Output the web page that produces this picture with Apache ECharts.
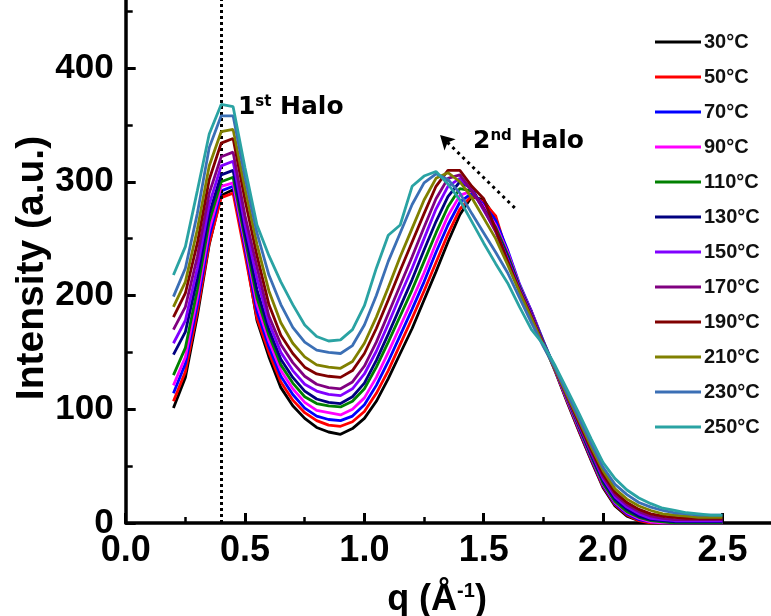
<!DOCTYPE html>
<html><head><meta charset="utf-8">
<script src="https://cdn.jsdelivr.net/npm/echarts@6/dist/echarts.min.js"></script>
<style>html,body{margin:0;padding:0;background:#fff}#c{width:771px;height:616px}</style>
</head><body><div id="c"></div>
<script>
// q values (Å^-1)
const xValues = [0.20,0.25,0.30,0.35,0.40,0.45,0.50,0.55,0.60,0.65,0.70,0.75,0.80,0.85,0.90,0.95,1.00,1.05,1.10,1.15,1.20,1.25,1.30,1.35,1.40,1.45,1.50,1.55,1.60,1.65,1.70,1.75,1.80,1.85,1.90,1.95,2.00,2.05,2.10,2.15,2.20,2.25,2.30,2.35,2.40,2.45,2.50];
const seriesNames = ['30\u00B0C','50\u00B0C','70\u00B0C','90\u00B0C','110\u00B0C','130\u00B0C','150\u00B0C','170\u00B0C','190\u00B0C','210\u00B0C','230\u00B0C','250\u00B0C'];
const colors = ['#000000','#ff0000','#0000ff','#ff00ff','#008000','#000080','#8000ff','#800080','#800000','#808000','#3b6fb5','#2aa3a3'];
const s30  = [101,128,182,245,288,293,240,178,146,119,103,92,84,80,78,83,92,107,127,149,171,196,221,247,271,287,284,268,232,206,184,158,133,106,80,55,31,15,6,2,0,0,0,0,0,0,0];
const s50  = [107,133,186,246,286,290,236,180,150,124,108,97,90,86,85,89,98,114,134,157,180,204,229,254,276,288,282,270,236,208,186,159,134,107,81,56,32,16,7,2,0,0,0,0,0,0,0];
const s70  = [114,140,192,252,292,296,242,186,155,129,113,101,94,91,90,94,104,121,142,165,188,212,238,262,282,290,280,266,240,210,186,160,135,108,82,57,33,17,8,3,1,0,0,0,0,0,0];
const s90  = [121,146,198,258,296,299,246,192,160,134,118,106,99,97,95,100,110,128,150,173,196,220,246,270,288,292,278,262,238,209,185,159,134,108,83,58,34,18,9,4,1,0,0,0,0,0,0];
const s110 = [130,154,205,265,300,304,250,198,165,139,123,111,105,103,102,107,118,137,159,182,205,230,255,278,294,292,276,260,236,208,184,159,135,109,84,59,35,19,10,5,2,1,0,0,0,0,0];
const s130 = [148,168,215,272,306,310,255,205,170,144,128,116,109,106,105,111,123,143,166,190,214,240,265,287,300,294,276,258,234,207,184,158,135,110,85,60,37,21,12,6,3,2,1,1,1,1,1];
const s150 = [158,178,224,280,314,318,262,215,176,150,134,122,116,113,112,118,131,151,175,200,224,250,276,296,303,293,275,257,232,206,183,158,135,110,86,62,39,23,14,8,4,3,2,2,2,2,2];
const s170 = [170,190,234,290,322,326,270,225,182,157,141,129,122,119,118,124,138,159,184,209,234,260,285,303,306,292,276,256,230,205,182,157,135,111,87,63,41,25,16,10,6,4,3,3,3,3,3];
const s190 = [181,202,246,302,334,338,284,235,192,165,149,137,131,129,128,134,149,171,196,222,247,272,296,310,310,296,285,258,230,204,181,157,135,111,88,65,43,27,18,12,8,6,5,4,4,4,4];
const s210 = [190,212,258,314,344,346,294,245,204,176,158,146,139,137,136,142,158,181,207,234,259,284,303,308,300,286,268,250,227,203,180,156,135,112,90,67,46,30,21,15,11,8,7,6,5,5,5];
const s230 = [199,224,272,330,358,358,304,255,218,192,172,159,152,150,149,156,174,200,230,255,280,299,307,302,290,272,255,238,220,198,176,155,136,114,92,70,49,34,25,18,14,11,9,8,7,7,7];
const s250 = [218,243,292,342,368,366,312,262,235,212,192,174,164,160,161,170,191,224,253,262,296,305,309,298,284,265,246,228,211,190,170,157,138,117,96,74,53,39,29,22,17,13,11,9,8,7,7];
const allSeries = [s30,s50,s70,s90,s110,s130,s150,s170,s190,s210,s230,s250];
const xTickLabels = ['0.0','0.5','1.0','1.5','2.0','2.5'];
const yTickLabels = ['0','100','200','300','400'];
// annotations (data coords)
const halo1Line = 0.4;
const halo1Text = [0.47, 365];
const halo2Text = [1.455, 335];
const arrowStart = [1.63, 277];
const arrowEnd = [1.317, 341];

const FONT = 'Liberation Sans, Arial, sans-serif';
const AFONT = 'DejaVu Sans, Noto Sans, sans-serif';
const chart = echarts.init(document.getElementById('c'), null, {renderer:'canvas'});

const series = allSeries.map((arr, k) => ({
  name: seriesNames[k],
  type: 'line',
  data: xValues.map((x, i) => [x, arr[i]]),
  symbol: 'none',
  showSymbol: false,
  lineStyle: {width: 2.8, color: colors[k]},
  itemStyle: {color: colors[k]},
  z: 2 + k,
  animation: false
}));

series.push({
  name: 'annot',
  type: 'line',
  data: [],
  symbol: 'none',
  z: 30,
  markLine: {
    silent: true,
    symbol: ['none','none'],
    label: {show: false},
    lineStyle: {color: '#000', width: 3, type: [3, 3]},
    data: [{xAxis: halo1Line}]
  },
  markPoint: {
    silent: true,
    symbol: 'circle',
    symbolSize: 0,
    label: {
      show: true, position: 'right', distance: 0,
      color: '#000',
      rich: {
        a: {fontFamily: AFONT, fontWeight: 'bold', fontSize: 25, color: '#000'},
        s: {fontFamily: AFONT, fontWeight: 'bold', fontSize: 15, color: '#000', verticalAlign: 'bottom', padding: [0,0,12,0]}
      }
    },
    data: [
      {coord: halo1Text, label: {formatter: '{a|1}{s|st}{a| Halo}'}},
      {coord: halo2Text, label: {formatter: '{a|2}{s|nd}{a| Halo}'}}
    ]
  }
});
series.push({
  name: 'arrow',
  type: 'line',
  data: [],
  symbol: 'none',
  z: 30,
  markLine: {
    silent: true,
    symbol: ['none','arrow'],
    symbolSize: [12, 14],
    label: {show: false},
    lineStyle: {color: '#000', width: 3, type: [3, 4]},
    data: [[{coord: arrowStart}, {coord: arrowEnd}]]
  }
});

chart.setOption({
  animation: false,
  backgroundColor: '#fff',
  grid: {left: 125.7, top: -45.75, width: 656.4, height: 568.75, containLabel: false, outerBoundsMode: 'none'},
  legend: {
    data: seriesNames,
    orient: 'vertical',
    left: 650,
    top: 27,
    icon: 'rect',
    itemWidth: 46,
    itemHeight: 3,
    itemGap: 15,
    textStyle: {fontFamily: FONT, fontWeight: 'bold', fontSize: 20, color: '#111', lineHeight: 20, padding: [0,0,0,-2]},
    selectedMode: false
  },
  xAxis: {
    type: 'value', min: 0, max: 2.75, interval: 0.5,
    axisLine: {lineStyle: {color: '#000', width: 3.5}},
    axisTick: {inside: true, length: 10, lineStyle: {color: '#000', width: 3}},
    minorTick: {show: true, splitNumber: 2, length: 6, lineStyle: {color: '#000', width: 2.5}},
    splitLine: {show: false},
    axisLabel: {
      margin: 10, color: '#000', fontFamily: FONT, fontWeight: 'bold', fontSize: 36,
      formatter: v => { const i = Math.round(v / 0.5); return (Math.abs(v - i*0.5) < 1e-6 && i < xTickLabels.length) ? xTickLabels[i] : ''; }
    }
  },
  yAxis: {
    type: 'value', min: 0, max: 500, interval: 100,
    axisLine: {show: true, lineStyle: {color: '#000', width: 3.5}},
    axisTick: {show: true, inside: true, length: 10, lineStyle: {color: '#000', width: 3}},
    minorTick: {show: true, splitNumber: 2, length: 7, lineStyle: {color: '#000', width: 2.5}},
    splitLine: {show: false},
    axisLabel: {
      margin: 12, color: '#000', fontFamily: FONT, fontWeight: 'bold', fontSize: 35,
      formatter: v => { const i = Math.round(v / 100); return i < yTickLabels.length ? yTickLabels[i] : ''; }
    }
  },
  graphic: [
    {type: 'text', x: 32, y: 268, rotation: Math.PI / 2,
     style: {text: 'Intensity (a.u.)', font: 'bold 39px Liberation Sans, Arial, sans-serif', fill: '#000', align: 'center', verticalAlign: 'middle'}},
    {type: 'text', x: 437, y: 600,
     style: {text: '{a|q (\u00C5}{s|-1}{a|)}', fill: '#000', align: 'center', verticalAlign: 'middle',
       rich: {
         a: {fontFamily: FONT, fontWeight: 'bold', fontSize: 36, fill: '#000'},
         s: {fontFamily: FONT, fontWeight: 'bold', fontSize: 20, fill: '#000', verticalAlign: 'bottom', padding: [0,0,18,0]}
       }}}
  ],
  series: series
});
</script></body></html>
